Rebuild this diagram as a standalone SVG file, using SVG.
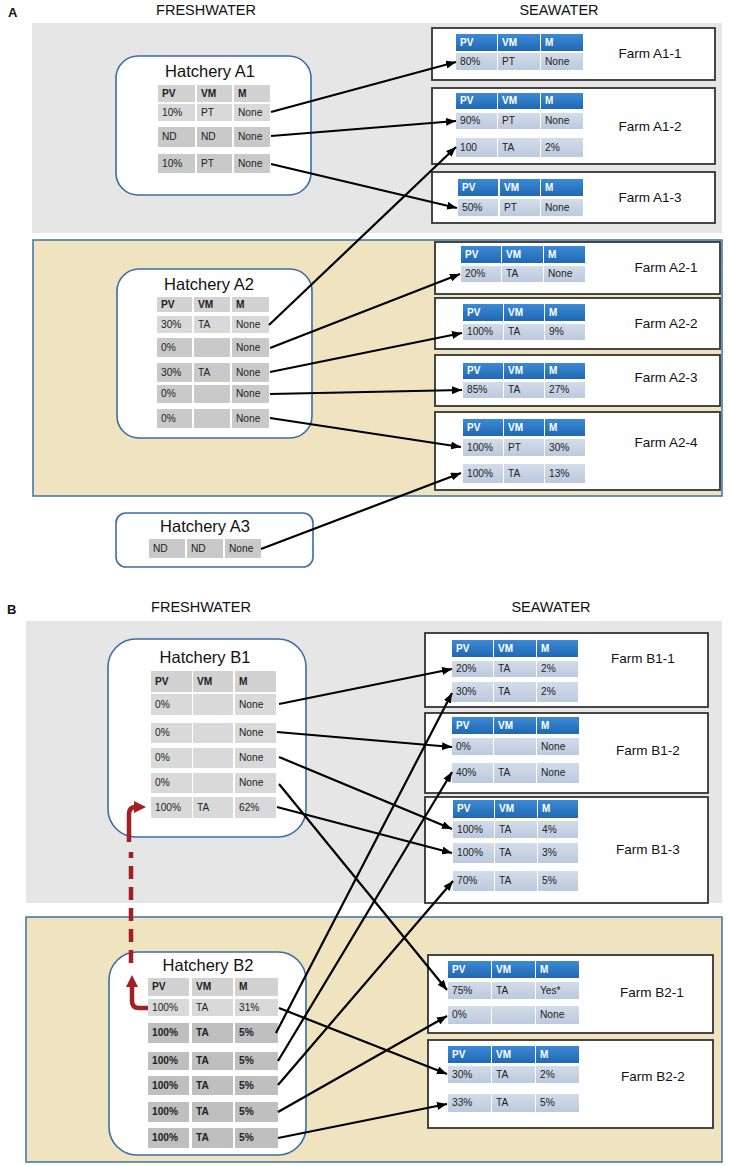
<svg xmlns="http://www.w3.org/2000/svg" width="729" height="1166" viewBox="0 0 729 1166">
<defs>
<linearGradient id="gh" x1="0" y1="0" x2="0" y2="1"><stop offset="0" stop-color="#3b8ad6"/><stop offset="1" stop-color="#2068b2"/></linearGradient>
<linearGradient id="gd" x1="0" y1="0" x2="0" y2="1"><stop offset="0" stop-color="#d2dcea"/><stop offset="1" stop-color="#bccadd"/></linearGradient>
<marker id="ar" markerUnits="userSpaceOnUse" markerWidth="10" markerHeight="8" refX="10" refY="4" orient="auto"><path d="M0,0 L10,4 L0,8 z" fill="#000"/></marker>
<marker id="rar" markerUnits="userSpaceOnUse" markerWidth="12" markerHeight="12" refX="6" refY="6" orient="auto"><path d="M0,0 L12,6 L0,12 z" fill="#a31f24"/></marker>
<style>
text{font-family:"Liberation Sans",Arial,sans-serif;fill:#222}
.t{font-size:10.2px}
.b{font-size:10.2px;font-weight:bold}
.w{font-size:10px;font-weight:bold;fill:#fff}
.ttl{font-size:16.5px;fill:#111}
.fl{font-size:13.5px;fill:#111}
.sec{font-size:14.5px;fill:#111}
.lab{font-size:13px;font-weight:bold;fill:#111}
.hbox{fill:#fff;stroke:#3a6ea5;stroke-width:1.6}
.fbox{fill:#fff;stroke:#333;stroke-width:1.8}
.fh{fill:url(#gh)}
.fd{fill:url(#gd)}
.h0{fill:#d2d2d2}
.h1{fill:#d9d9d9}
.h2{fill:#c9c9c9}
.h3{fill:#bfbfbf}
.gray{fill:#e6e6e6}
.tan{fill:#f0e3c0;stroke:#3d72a8;stroke-width:1.5}
.cn line{stroke:#000;stroke-width:2.2;marker-end:url(#ar)}
</style>
</defs>
<rect width="729" height="1166" fill="#fff"/>

<g id="panelA">
<text x="8" y="17" class="lab">A</text>
<text x="206" y="15" class="sec" text-anchor="middle">FRESHWATER</text>
<text x="559" y="15" class="sec" text-anchor="middle">SEAWATER</text>
<rect x="32" y="23" width="690" height="210" class="gray"/>
<rect x="33" y="240" width="689" height="256" class="tan"/>
</g>

<g id="panelB">
<text x="7" y="614" class="lab">B</text>
<text x="201" y="612" class="sec" text-anchor="middle">FRESHWATER</text>
<text x="551" y="612" class="sec" text-anchor="middle">SEAWATER</text>
<rect x="26" y="621" width="696" height="282" class="gray"/>
<rect x="26" y="917" width="696" height="245" class="tan"/>
</g>

<g id="hatcheryA1">
<rect x="116" y="56" width="195" height="139" rx="22" class="hbox"/>
<text x="210" y="77" class="ttl" text-anchor="middle">Hatchery A1</text>
<rect x="158" y="85" width="37" height="17" class="h0"/><rect x="197" y="85" width="35" height="17" class="h0"/><rect x="234" y="85" width="36" height="17" class="h0"/>
<text x="162" y="96.8" class="b">PV</text><text x="201" y="96.8" class="b">VM</text><text x="238" y="96.8" class="b">M</text>
<rect x="158" y="104" width="37" height="17" class="h1"/><rect x="197" y="104" width="35" height="17" class="h1"/><rect x="234" y="104" width="36" height="17" class="h1"/>
<text x="162" y="115.8" class="t">10%</text><text x="201" y="115.8" class="t">PT</text><text x="238" y="115.8" class="t">None</text>
<rect x="158" y="127" width="37" height="20" class="h2"/><rect x="197" y="127" width="35" height="20" class="h2"/><rect x="234" y="127" width="36" height="20" class="h2"/>
<text x="162" y="140.3" class="t">ND</text><text x="201" y="140.3" class="t">ND</text><text x="238" y="140.3" class="t">None</text>
<rect x="158" y="154" width="37" height="19" class="h2"/><rect x="197" y="154" width="35" height="19" class="h2"/><rect x="234" y="154" width="36" height="19" class="h2"/>
<text x="162" y="166.8" class="t">10%</text><text x="201" y="166.8" class="t">PT</text><text x="238" y="166.8" class="t">None</text>
</g>

<g id="hatcheryA2">
<rect x="117" y="269" width="195" height="169" rx="22" class="hbox"/>
<text x="209" y="290" class="ttl" text-anchor="middle">Hatchery A2</text>
<rect x="157" y="297" width="35" height="15" class="h0"/><rect x="194" y="297" width="36" height="15" class="h0"/><rect x="232" y="297" width="37" height="15" class="h0"/>
<text x="161" y="307.8" class="b">PV</text><text x="198" y="307.8" class="b">VM</text><text x="236" y="307.8" class="b">M</text>
<rect x="157" y="316" width="35" height="17" class="h1"/><rect x="194" y="316" width="36" height="17" class="h1"/><rect x="232" y="316" width="37" height="17" class="h1"/>
<text x="161" y="327.8" class="t">30%</text><text x="198" y="327.8" class="t">TA</text><text x="236" y="327.8" class="t">None</text>
<rect x="157" y="338" width="35" height="19" class="h2"/><rect x="194" y="338" width="36" height="19" class="h2"/><rect x="232" y="338" width="37" height="19" class="h2"/>
<text x="161" y="350.8" class="t">0%</text><text x="236" y="350.8" class="t">None</text>
<rect x="157" y="363" width="35" height="19" class="h2"/><rect x="194" y="363" width="36" height="19" class="h2"/><rect x="232" y="363" width="37" height="19" class="h2"/>
<text x="161" y="375.8" class="t">30%</text><text x="198" y="375.8" class="t">TA</text><text x="236" y="375.8" class="t">None</text>
<rect x="157" y="385" width="35" height="18" class="h2"/><rect x="194" y="385" width="36" height="18" class="h2"/><rect x="232" y="385" width="37" height="18" class="h2"/>
<text x="161" y="397.3" class="t">0%</text><text x="236" y="397.3" class="t">None</text>
<rect x="157" y="409" width="35" height="19" class="h2"/><rect x="194" y="409" width="36" height="19" class="h2"/><rect x="232" y="409" width="37" height="19" class="h2"/>
<text x="161" y="421.8" class="t">0%</text><text x="236" y="421.8" class="t">None</text>
</g>

<g id="hatcheryA3">
<rect x="116" y="513" width="197" height="54" rx="10" class="hbox"/>
<text x="205" y="532" class="ttl" text-anchor="middle">Hatchery A3</text>
<rect x="149" y="539" width="36" height="19" class="h2"/><rect x="187" y="539" width="36" height="19" class="h2"/><rect x="225" y="539" width="36" height="19" class="h2"/>
<text x="153" y="551.8" class="t">ND</text><text x="191" y="551.8" class="t">ND</text><text x="229" y="551.8" class="t">None</text>
</g>

<g id="farmA1-1">
<rect x="432" y="28" width="283" height="52" class="fbox"/>
<rect x="456" y="34" width="41" height="17" class="fh"/><rect x="498" y="34" width="42" height="17" class="fh"/><rect x="541" y="34" width="42" height="17" class="fh"/>
<text x="460" y="45.8" class="w">PV</text><text x="502" y="45.8" class="w">VM</text><text x="545" y="45.8" class="w">M</text>
<rect x="456" y="53" width="41" height="17" class="fd"/><rect x="498" y="53" width="42" height="17" class="fd"/><rect x="541" y="53" width="42" height="17" class="fd"/>
<text x="460" y="64.8" class="t">80%</text><text x="502" y="64.8" class="t">PT</text><text x="545" y="64.8" class="t">None</text>
<text x="650" y="58" class="fl" text-anchor="middle">Farm A1-1</text>
</g>

<g id="farmA1-2">
<rect x="432" y="88" width="283" height="76" class="fbox"/>
<rect x="456" y="93" width="41" height="16" class="fh"/><rect x="498" y="93" width="42" height="16" class="fh"/><rect x="541" y="93" width="42" height="16" class="fh"/>
<text x="460" y="104.3" class="w">PV</text><text x="502" y="104.3" class="w">VM</text><text x="545" y="104.3" class="w">M</text>
<rect x="456" y="113" width="41" height="16" class="fd"/><rect x="498" y="113" width="42" height="16" class="fd"/><rect x="541" y="113" width="42" height="16" class="fd"/>
<text x="460" y="124.3" class="t">90%</text><text x="502" y="124.3" class="t">PT</text><text x="545" y="124.3" class="t">None</text>
<rect x="456" y="138" width="41" height="19" class="fd"/><rect x="498" y="138" width="42" height="19" class="fd"/><rect x="541" y="138" width="42" height="19" class="fd"/>
<text x="460" y="150.8" class="t">100</text><text x="502" y="150.8" class="t">TA</text><text x="545" y="150.8" class="t">2%</text>
<text x="650" y="131" class="fl" text-anchor="middle">Farm A1-2</text>
</g>

<g id="farmA1-3">
<rect x="432" y="172" width="283" height="51" class="fbox"/>
<rect x="458" y="179" width="40" height="17" class="fh"/><rect x="500" y="179" width="40" height="17" class="fh"/><rect x="541" y="179" width="42" height="17" class="fh"/>
<text x="462" y="190.8" class="w">PV</text><text x="504" y="190.8" class="w">VM</text><text x="545" y="190.8" class="w">M</text>
<rect x="458" y="199" width="40" height="17" class="fd"/><rect x="500" y="199" width="40" height="17" class="fd"/><rect x="541" y="199" width="42" height="17" class="fd"/>
<text x="462" y="210.8" class="t">50%</text><text x="504" y="210.8" class="t">PT</text><text x="545" y="210.8" class="t">None</text>
<text x="650" y="202" class="fl" text-anchor="middle">Farm A1-3</text>
</g>

<g id="farmA2-1">
<rect x="435" y="242" width="285" height="52" class="fbox"/>
<rect x="461" y="246" width="40" height="17" class="fh"/><rect x="502" y="246" width="41" height="17" class="fh"/><rect x="544" y="246" width="41" height="17" class="fh"/>
<text x="465" y="257.8" class="w">PV</text><text x="506" y="257.8" class="w">VM</text><text x="548" y="257.8" class="w">M</text>
<rect x="461" y="266" width="40" height="16" class="fd"/><rect x="502" y="266" width="41" height="16" class="fd"/><rect x="544" y="266" width="41" height="16" class="fd"/>
<text x="465" y="277.3" class="t">20%</text><text x="506" y="277.3" class="t">TA</text><text x="548" y="277.3" class="t">None</text>
<text x="666" y="272" class="fl" text-anchor="middle">Farm A2-1</text>
</g>

<g id="farmA2-2">
<rect x="435" y="298" width="285" height="51" class="fbox"/>
<rect x="463" y="304" width="40" height="17" class="fh"/><rect x="504" y="304" width="40" height="17" class="fh"/><rect x="545" y="304" width="40" height="17" class="fh"/>
<text x="467" y="315.8" class="w">PV</text><text x="508" y="315.8" class="w">VM</text><text x="549" y="315.8" class="w">M</text>
<rect x="463" y="324" width="40" height="16" class="fd"/><rect x="504" y="324" width="40" height="16" class="fd"/><rect x="545" y="324" width="40" height="16" class="fd"/>
<text x="467" y="335.3" class="t">100%</text><text x="508" y="335.3" class="t">TA</text><text x="549" y="335.3" class="t">9%</text>
<text x="666" y="328" class="fl" text-anchor="middle">Farm A2-2</text>
</g>

<g id="farmA2-3">
<rect x="435" y="355" width="285" height="51" class="fbox"/>
<rect x="463" y="363" width="40" height="16" class="fh"/><rect x="504" y="363" width="40" height="16" class="fh"/><rect x="545" y="363" width="40" height="16" class="fh"/>
<text x="467" y="374.3" class="w">PV</text><text x="508" y="374.3" class="w">VM</text><text x="549" y="374.3" class="w">M</text>
<rect x="463" y="382" width="40" height="16" class="fd"/><rect x="504" y="382" width="40" height="16" class="fd"/><rect x="545" y="382" width="40" height="16" class="fd"/>
<text x="467" y="393.3" class="t">85%</text><text x="508" y="393.3" class="t">TA</text><text x="549" y="393.3" class="t">27%</text>
<text x="666" y="382" class="fl" text-anchor="middle">Farm A2-3</text>
</g>

<g id="farmA2-4">
<rect x="435" y="412" width="285" height="78" class="fbox"/>
<rect x="463" y="419" width="40" height="17" class="fh"/><rect x="504" y="419" width="40" height="17" class="fh"/><rect x="545" y="419" width="40" height="17" class="fh"/>
<text x="467" y="430.8" class="w">PV</text><text x="508" y="430.8" class="w">VM</text><text x="549" y="430.8" class="w">M</text>
<rect x="463" y="439" width="40" height="17" class="fd"/><rect x="504" y="439" width="40" height="17" class="fd"/><rect x="545" y="439" width="40" height="17" class="fd"/>
<text x="467" y="450.8" class="t">100%</text><text x="508" y="450.8" class="t">PT</text><text x="549" y="450.8" class="t">30%</text>
<rect x="463" y="464" width="40" height="19" class="fd"/><rect x="504" y="464" width="40" height="19" class="fd"/><rect x="545" y="464" width="40" height="19" class="fd"/>
<text x="467" y="476.8" class="t">100%</text><text x="508" y="476.8" class="t">TA</text><text x="549" y="476.8" class="t">13%</text>
<text x="666" y="447" class="fl" text-anchor="middle">Farm A2-4</text>
</g>

<g id="hatcheryB1">
<rect x="108" y="639" width="198" height="198" rx="28" class="hbox"/>
<text x="205" y="663" class="ttl" text-anchor="middle">Hatchery B1</text>
<rect x="151" y="671" width="41" height="21" class="h0"/><rect x="193" y="671" width="40" height="21" class="h0"/><rect x="235" y="671" width="41" height="21" class="h0"/>
<text x="155" y="684.8" class="b">PV</text><text x="197" y="684.8" class="b">VM</text><text x="239" y="684.8" class="b">M</text>
<rect x="151" y="694" width="41" height="21" class="h1"/><rect x="193" y="694" width="40" height="21" class="h1"/><rect x="235" y="694" width="41" height="21" class="h1"/>
<text x="155" y="707.8" class="t">0%</text><text x="239" y="707.8" class="t">None</text>
<rect x="151" y="723" width="41" height="20" class="h1"/><rect x="193" y="723" width="40" height="20" class="h1"/><rect x="235" y="723" width="41" height="20" class="h1"/>
<text x="155" y="736.3" class="t">0%</text><text x="239" y="736.3" class="t">None</text>
<rect x="151" y="748" width="41" height="20" class="h1"/><rect x="193" y="748" width="40" height="20" class="h1"/><rect x="235" y="748" width="41" height="20" class="h1"/>
<text x="155" y="761.3" class="t">0%</text><text x="239" y="761.3" class="t">None</text>
<rect x="151" y="773" width="41" height="20" class="h1"/><rect x="193" y="773" width="40" height="20" class="h1"/><rect x="235" y="773" width="41" height="20" class="h1"/>
<text x="155" y="786.3" class="t">0%</text><text x="239" y="786.3" class="t">None</text>
<rect x="151" y="797" width="41" height="21" class="h1"/><rect x="193" y="797" width="40" height="21" class="h1"/><rect x="235" y="797" width="41" height="21" class="h1"/>
<text x="155" y="810.8" class="t">100%</text><text x="197" y="810.8" class="t">TA</text><text x="239" y="810.8" class="t">62%</text>
</g>

<g id="hatcheryB2">
<rect x="109" y="952" width="197" height="203" rx="28" class="hbox"/>
<text x="208" y="971" class="ttl" text-anchor="middle">Hatchery B2</text>
<rect x="148" y="978" width="41" height="18" class="h0"/><rect x="192" y="978" width="41" height="18" class="h0"/><rect x="235" y="978" width="43" height="18" class="h0"/>
<text x="152" y="990.3" class="b">PV</text><text x="196" y="990.3" class="b">VM</text><text x="239" y="990.3" class="b">M</text>
<rect x="148" y="999" width="41" height="17" class="h1"/><rect x="192" y="999" width="41" height="17" class="h1"/><rect x="235" y="999" width="43" height="17" class="h1"/>
<text x="152" y="1010.8" class="t">100%</text><text x="196" y="1010.8" class="t">TA</text><text x="239" y="1010.8" class="t">31%</text>
<rect x="148" y="1023" width="41" height="20" class="h3"/><rect x="192" y="1023" width="41" height="20" class="h3"/><rect x="235" y="1023" width="43" height="20" class="h3"/>
<text x="152" y="1036.3" class="b">100%</text><text x="196" y="1036.3" class="b">TA</text><text x="239" y="1036.3" class="b">5%</text>
<rect x="148" y="1052" width="41" height="18" class="h3"/><rect x="192" y="1052" width="41" height="18" class="h3"/><rect x="235" y="1052" width="43" height="18" class="h3"/>
<text x="152" y="1064.3" class="b">100%</text><text x="196" y="1064.3" class="b">TA</text><text x="239" y="1064.3" class="b">5%</text>
<rect x="148" y="1076" width="41" height="19" class="h3"/><rect x="192" y="1076" width="41" height="19" class="h3"/><rect x="235" y="1076" width="43" height="19" class="h3"/>
<text x="152" y="1088.8" class="b">100%</text><text x="196" y="1088.8" class="b">TA</text><text x="239" y="1088.8" class="b">5%</text>
<rect x="148" y="1102" width="41" height="20" class="h3"/><rect x="192" y="1102" width="41" height="20" class="h3"/><rect x="235" y="1102" width="43" height="20" class="h3"/>
<text x="152" y="1115.3" class="b">100%</text><text x="196" y="1115.3" class="b">TA</text><text x="239" y="1115.3" class="b">5%</text>
<rect x="148" y="1128" width="41" height="20" class="h3"/><rect x="192" y="1128" width="41" height="20" class="h3"/><rect x="235" y="1128" width="43" height="20" class="h3"/>
<text x="152" y="1141.3" class="b">100%</text><text x="196" y="1141.3" class="b">TA</text><text x="239" y="1141.3" class="b">5%</text>
</g>

<g id="farmB1-1">
<rect x="425" y="633" width="283" height="74" class="fbox"/>
<rect x="452" y="640" width="41" height="17" class="fh"/><rect x="494" y="640" width="42" height="17" class="fh"/><rect x="537" y="640" width="41" height="17" class="fh"/>
<text x="456" y="651.8" class="w">PV</text><text x="498" y="651.8" class="w">VM</text><text x="541" y="651.8" class="w">M</text>
<rect x="452" y="661" width="41" height="16" class="fd"/><rect x="494" y="661" width="42" height="16" class="fd"/><rect x="537" y="661" width="41" height="16" class="fd"/>
<text x="456" y="672.3" class="t">20%</text><text x="498" y="672.3" class="t">TA</text><text x="541" y="672.3" class="t">2%</text>
<rect x="452" y="682" width="41" height="20" class="fd"/><rect x="494" y="682" width="42" height="20" class="fd"/><rect x="537" y="682" width="41" height="20" class="fd"/>
<text x="456" y="695.3" class="t">30%</text><text x="498" y="695.3" class="t">TA</text><text x="541" y="695.3" class="t">2%</text>
<text x="643" y="663" class="fl" text-anchor="middle">Farm B1-1</text>
</g>

<g id="farmB1-2">
<rect x="425" y="713" width="283" height="80" class="fbox"/>
<rect x="452" y="717" width="41" height="17" class="fh"/><rect x="494" y="717" width="42" height="17" class="fh"/><rect x="537" y="717" width="42" height="17" class="fh"/>
<text x="456" y="728.8" class="w">PV</text><text x="498" y="728.8" class="w">VM</text><text x="541" y="728.8" class="w">M</text>
<rect x="452" y="738" width="41" height="17" class="fd"/><rect x="494" y="738" width="42" height="17" class="fd"/><rect x="537" y="738" width="42" height="17" class="fd"/>
<text x="456" y="749.8" class="t">0%</text><text x="541" y="749.8" class="t">None</text>
<rect x="452" y="763" width="41" height="20" class="fd"/><rect x="494" y="763" width="42" height="20" class="fd"/><rect x="537" y="763" width="42" height="20" class="fd"/>
<text x="456" y="776.3" class="t">40%</text><text x="498" y="776.3" class="t">TA</text><text x="541" y="776.3" class="t">None</text>
<text x="648" y="755" class="fl" text-anchor="middle">Farm B1-2</text>
</g>

<g id="farmB1-3">
<rect x="425" y="797" width="283" height="106" class="fbox"/>
<rect x="453" y="800" width="41" height="18" class="fh"/><rect x="495" y="800" width="42" height="18" class="fh"/><rect x="538" y="800" width="40" height="18" class="fh"/>
<text x="457" y="812.3" class="w">PV</text><text x="499" y="812.3" class="w">VM</text><text x="542" y="812.3" class="w">M</text>
<rect x="453" y="821" width="41" height="17" class="fd"/><rect x="495" y="821" width="42" height="17" class="fd"/><rect x="538" y="821" width="40" height="17" class="fd"/>
<text x="457" y="832.8" class="t">100%</text><text x="499" y="832.8" class="t">TA</text><text x="542" y="832.8" class="t">4%</text>
<rect x="453" y="843" width="41" height="20" class="fd"/><rect x="495" y="843" width="42" height="20" class="fd"/><rect x="538" y="843" width="40" height="20" class="fd"/>
<text x="457" y="856.3" class="t">100%</text><text x="499" y="856.3" class="t">TA</text><text x="542" y="856.3" class="t">3%</text>
<rect x="453" y="871" width="41" height="20" class="fd"/><rect x="495" y="871" width="42" height="20" class="fd"/><rect x="538" y="871" width="40" height="20" class="fd"/>
<text x="457" y="884.3" class="t">70%</text><text x="499" y="884.3" class="t">TA</text><text x="542" y="884.3" class="t">5%</text>
<text x="648" y="854" class="fl" text-anchor="middle">Farm B1-3</text>
</g>

<g id="farmB2-1">
<rect x="428" y="955" width="285" height="78" class="fbox"/>
<rect x="448" y="961" width="43" height="17" class="fh"/><rect x="492" y="961" width="43" height="17" class="fh"/><rect x="536" y="961" width="43" height="17" class="fh"/>
<text x="452" y="972.8" class="w">PV</text><text x="496" y="972.8" class="w">VM</text><text x="540" y="972.8" class="w">M</text>
<rect x="448" y="982" width="43" height="17" class="fd"/><rect x="492" y="982" width="43" height="17" class="fd"/><rect x="536" y="982" width="43" height="17" class="fd"/>
<text x="452" y="993.8" class="t">75%</text><text x="496" y="993.8" class="t">TA</text><text x="540" y="993.8" class="t">Yes*</text>
<rect x="448" y="1006" width="43" height="18" class="fd"/><rect x="492" y="1006" width="43" height="18" class="fd"/><rect x="536" y="1006" width="43" height="18" class="fd"/>
<text x="452" y="1018.3" class="t">0%</text><text x="540" y="1018.3" class="t">None</text>
<text x="652" y="997" class="fl" text-anchor="middle">Farm B2-1</text>
</g>

<g id="farmB2-2">
<rect x="428" y="1040" width="285" height="88" class="fbox"/>
<rect x="448" y="1046" width="43" height="17" class="fh"/><rect x="492" y="1046" width="43" height="17" class="fh"/><rect x="536" y="1046" width="43" height="17" class="fh"/>
<text x="452" y="1057.8" class="w">PV</text><text x="496" y="1057.8" class="w">VM</text><text x="540" y="1057.8" class="w">M</text>
<rect x="448" y="1066" width="43" height="17" class="fd"/><rect x="492" y="1066" width="43" height="17" class="fd"/><rect x="536" y="1066" width="43" height="17" class="fd"/>
<text x="452" y="1077.8" class="t">30%</text><text x="496" y="1077.8" class="t">TA</text><text x="540" y="1077.8" class="t">2%</text>
<rect x="448" y="1094" width="43" height="18" class="fd"/><rect x="492" y="1094" width="43" height="18" class="fd"/><rect x="536" y="1094" width="43" height="18" class="fd"/>
<text x="452" y="1106.3" class="t">33%</text><text x="496" y="1106.3" class="t">TA</text><text x="540" y="1106.3" class="t">5%</text>
<text x="653" y="1081" class="fl" text-anchor="middle">Farm B2-2</text>
</g>

<g id="connectors" class="cn">
<line x1="271" y1="112" x2="456" y2="62"/>
<line x1="271" y1="136" x2="456" y2="121"/>
<line x1="271" y1="164" x2="457" y2="208"/>
<line x1="269" y1="325" x2="456" y2="147"/>
<line x1="270" y1="348" x2="460" y2="274"/>
<line x1="270" y1="372" x2="462" y2="333"/>
<line x1="270" y1="394" x2="462" y2="390"/>
<line x1="270" y1="418" x2="461" y2="447"/>
<line x1="261" y1="549" x2="461" y2="473"/>
<line x1="279" y1="704" x2="452" y2="669"/>
<line x1="277" y1="732" x2="452" y2="747"/>
<line x1="279" y1="757" x2="452" y2="829"/>
<line x1="279" y1="784" x2="447" y2="990"/>
<line x1="277" y1="807" x2="452" y2="853"/>
<line x1="279" y1="1008" x2="447" y2="1074"/>
<line x1="276" y1="1033" x2="452" y2="693"/>
<line x1="278" y1="1061" x2="452" y2="772"/>
<line x1="278" y1="1085" x2="453" y2="881"/>
<line x1="278" y1="1112" x2="447" y2="1016"/>
<line x1="278" y1="1138" x2="447" y2="1104"/>
<g id="transfer" fill="none" stroke="#a31f24" stroke-width="4.5">
<path d="M129,842 V814 Q129,807 136,807 H140" marker-end="url(#rar)"/>
<path d="M131,963 V852" stroke-dasharray="13,8"/>
<path d="M148,1008 H139 Q132,1008 132,1001 V981" marker-end="url(#rar)"/>
</g>
</g>
</svg>
